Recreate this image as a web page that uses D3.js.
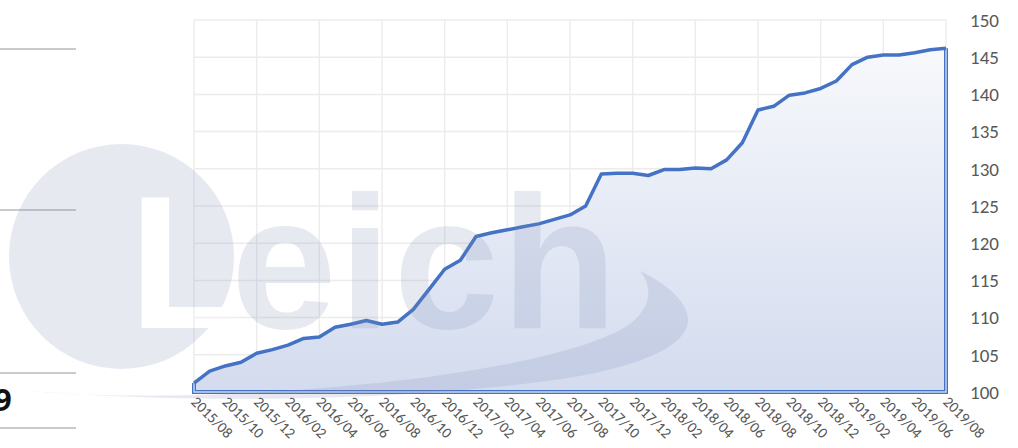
<!DOCTYPE html>
<html>
<head>
<meta charset="utf-8">
<script src="https://cdn.jsdelivr.net/npm/d3@7"></script>
<style>
  html, body { margin: 0; padding: 0; background: #fff; }
  svg { display: block; }
  .ylab { font-family: Carlito, Calibri, Lato, sans-serif; font-size: 19px; fill: #595959; }
  .xlab { font-family: Carlito, Calibri, Lato, sans-serif; font-size: 15px; fill: #555; }
</style>
</head>
<body>
<script>
// months on the category axis (2015/08 .. 2019/08)
var months = [
  "2015/08","2015/09","2015/10","2015/11","2015/12","2016/01","2016/02","2016/03",
  "2016/04","2016/05","2016/06","2016/07","2016/08","2016/09","2016/10","2016/11",
  "2016/12","2017/01","2017/02","2017/03","2017/04","2017/05","2017/06","2017/07",
  "2017/08","2017/09","2017/10","2017/11","2017/12","2018/01","2018/02","2018/03",
  "2018/04","2018/05","2018/06","2018/07","2018/08","2018/09","2018/10","2018/11",
  "2018/12","2019/01","2019/02","2019/03","2019/04","2019/05","2019/06","2019/07",
  "2019/08"
];

// index values
var values = [
  101.2, 102.8, 103.5, 104.0, 105.2, 105.7, 106.3, 107.2,
  107.4, 108.7, 109.1, 109.6, 109.1, 109.4, 111.1, 113.8,
  116.5, 117.7, 120.9, 121.4, 121.8, 122.2, 122.6, 123.2,
  123.8, 125.0, 129.3, 129.4, 129.4, 129.1, 129.9, 129.9,
  130.1, 130.0, 131.2, 133.5, 137.9, 138.4, 139.9, 140.2,
  140.8, 141.8, 144.0, 145.0, 145.3, 145.3, 145.6, 146.0,
  146.2
];

var xTickLabels = [
  "2015/08","2015/10","2015/12","2016/02","2016/04","2016/06","2016/08",
  "2016/10","2016/12","2017/02","2017/04","2017/06","2017/08","2017/10",
  "2017/12","2018/02","2018/04","2018/06","2018/08","2018/10","2018/12",
  "2019/02","2019/04","2019/06","2019/08"
];
var yTicks = [100, 105, 110, 115, 120, 125, 130, 135, 140, 145, 150];

var W = 1018, H = 448;
var plot = {left: 194, right: 946, top: 20, bottom: 392};

var svg = d3.select("body").append("svg")
  .attr("width", W)
  .attr("height", H);

var x = d3.scaleLinear()
  .domain([0, months.length - 1])
  .range([plot.left, plot.right]);

var y = d3.scaleLinear()
  .domain([100, 150])
  .range([plot.bottom, plot.top]);

var defs = svg.append("defs");
var grad = defs.append("linearGradient")
  .attr("id", "areaFill")
  .attr("gradientUnits", "userSpaceOnUse")
  .attr("x1", 0).attr("y1", plot.top)
  .attr("x2", 0).attr("y2", plot.bottom);
grad.append("stop").attr("offset", "0%").attr("stop-color", "#fafbfd");
grad.append("stop").attr("offset", "100%").attr("stop-color", "#d3dbee");

// leftover table rules on the left edge
var leftRules = [49, 210, 373, 428];
svg.append("g").selectAll("line")
  .data(leftRules)
  .enter().append("line")
  .attr("x1", 0).attr("x2", 76)
  .attr("y1", function(d) { return d; })
  .attr("y2", function(d) { return d; })
  .attr("stroke", "#b9b9b9")
  .attr("stroke-width", 1.5);

svg.append("text")
  .attr("x", -6)
  .attr("y", 411)
  .attr("font-family", "'Open Sans', sans-serif")
  .attr("font-weight", "bold")
  .attr("font-size", 31)
  .attr("fill", "#111")
  .text("9");

// gridlines
var grid = svg.append("g").attr("class", "grid");
grid.selectAll(".hgrid")
  .data(yTicks.slice(1))
  .enter().append("line")
  .attr("class", "hgrid")
  .attr("x1", plot.left).attr("x2", plot.right)
  .attr("y1", function(d) { return y(d); })
  .attr("y2", function(d) { return y(d); })
  .attr("stroke", "#ececec")
  .attr("stroke-width", 1.5);

var vgridIdx = d3.range(0, months.length, 4);
grid.selectAll(".vgrid")
  .data(vgridIdx)
  .enter().append("line")
  .attr("class", "vgrid")
  .attr("x1", function(d) { return x(d); })
  .attr("x2", function(d) { return x(d); })
  .attr("y1", plot.top).attr("y2", plot.bottom)
  .attr("stroke", "#ececec")
  .attr("stroke-width", 1.5);

// area + line
var area = d3.area()
  .x(function(d, i) { return x(i); })
  .y0(y(100))
  .y1(function(d) { return y(d); });

svg.append("path")
  .datum(values)
  .attr("d", area)
  .attr("fill", "url(#areaFill)");

// double outline on the sides and bottom of the area
var last = values.length - 1;
var outlinePts = [
  [x(0), y(values[0])], [x(0), y(100)],
  [x(last), y(100)], [x(last), y(values[last])]
];
var outline = d3.line();
svg.append("path")
  .attr("d", outline(outlinePts))
  .attr("fill", "none")
  .attr("stroke", "#4472c4")
  .attr("stroke-width", 4);
svg.append("path")
  .attr("d", outline(outlinePts))
  .attr("fill", "none")
  .attr("stroke", "#cdd7ee")
  .attr("stroke-width", 1.4);

var line = d3.line()
  .x(function(d, i) { return x(i); })
  .y(function(d) { return y(d); });

svg.append("path")
  .datum(values)
  .attr("d", line)
  .attr("fill", "none")
  .attr("stroke", "#4472c4")
  .attr("stroke-width", 3.5)
  .attr("stroke-linejoin", "round");

// right value axis labels
svg.append("g").selectAll("text")
  .data(yTicks)
  .enter().append("text")
  .attr("class", "ylab")
  .attr("x", 970)
  .attr("y", function(d) { return y(d); })
  .attr("dy", "0.36em")
  .text(function(d) { return d; });

// rotated month labels
svg.append("g").selectAll("text")
  .data(xTickLabels)
  .enter().append("text")
  .attr("class", "xlab")
  .attr("transform", function(d, i) {
    return "translate(" + x(i * 2) + "," + 399 + ") rotate(45)";
  })
  .attr("dy", "0.35em")
  .text(function(d) { return d; });

// watermark on top, faint
var wm = svg.append("g")
  .attr("opacity", 0.18)
  .attr("pointer-events", "none");

wm.append("circle")
  .attr("cx", 121.5).attr("cy", 256.5).attr("r", 112.5)
  .attr("fill", "rgb(125,140,182)");

wm.append("text")
  .attr("x", 129).attr("y", 328)
  .attr("font-family", "'Liberation Sans', Arial, sans-serif")
  .attr("font-weight", "bold")
  .attr("font-size", 190)
  .attr("fill", "#fff")
  .text("L");

wm.append("text")
  .attr("x", 231).attr("y", 328)
  .attr("font-family", "'Liberation Sans', Arial, sans-serif")
  .attr("font-weight", "bold")
  .attr("font-size", 190)
  .attr("letter-spacing", 2)
  .attr("fill", "rgb(125,140,182)")
  .text("eich");

wm.append("path")
  .attr("d", "M30,391 C200,404 420,402 580,376 C640,365 690,346 688,318 " +
             "C686,300 665,283 640,271 C652,286 653,306 630,324 " +
             "C590,352 450,386 200,395 C120,397 60,394 30,391 Z")
  .attr("fill", "rgb(125,140,182)");
</script>
</body>
</html>
